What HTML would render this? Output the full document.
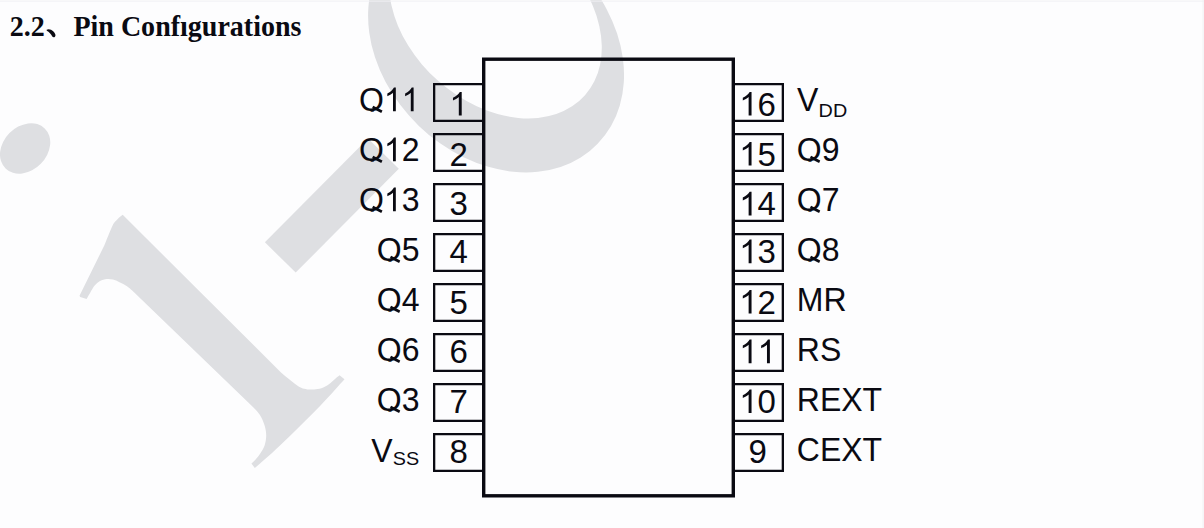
<!DOCTYPE html>
<html><head><meta charset="utf-8"><title>Pin Configurations</title><style>
html,body{margin:0;padding:0;background:#fdfdfe;width:1204px;height:528px;overflow:hidden}
svg{display:block}
</style></head><body><svg width="1204" height="528" viewBox="0 0 1204 528"><defs><clipPath id="ct1"><path clip-rule="evenodd" d="M-500,-100 H500 V100 H-500 Z M-51.09,0.45 h11.28 v8.00 h-11.28 Z M-35.70,-24.20 h17.23 v25.80 h-17.23 Z M-17.35,-24.20 h17.23 v25.80 h-17.23 Z"/></clipPath><clipPath id="ct2"><path clip-rule="evenodd" d="M-500,-100 H500 V100 H-500 Z M-8.17,-24.20 h17.23 v25.80 h-17.23 Z"/></clipPath><clipPath id="ct3"><path clip-rule="evenodd" d="M-500,-100 H500 V100 H-500 Z M-17.35,-24.20 h17.23 v25.80 h-17.23 Z"/></clipPath><clipPath id="ct4"><path clip-rule="evenodd" d="M-500,-100 H500 V100 H-500 Z M-51.09,0.45 h11.28 v8.00 h-11.28 Z M-35.70,-24.20 h17.23 v25.80 h-17.23 Z"/></clipPath><clipPath id="ct5"><path clip-rule="evenodd" d="M-500,-100 H500 V100 H-500 Z M11.28,0.45 h11.28 v8.00 h-11.28 Z"/></clipPath><clipPath id="ct7"><path clip-rule="evenodd" d="M-500,-100 H500 V100 H-500 Z M-17.35,-24.20 h17.23 v25.80 h-17.23 Z"/></clipPath><clipPath id="ct8"><path clip-rule="evenodd" d="M-500,-100 H500 V100 H-500 Z M-51.09,0.45 h11.28 v8.00 h-11.28 Z M-35.70,-24.20 h17.23 v25.80 h-17.23 Z"/></clipPath><clipPath id="ct9"><path clip-rule="evenodd" d="M-500,-100 H500 V100 H-500 Z M11.28,0.45 h11.28 v8.00 h-11.28 Z"/></clipPath><clipPath id="ct11"><path clip-rule="evenodd" d="M-500,-100 H500 V100 H-500 Z M-17.35,-24.20 h17.23 v25.80 h-17.23 Z"/></clipPath><clipPath id="ct12"><path clip-rule="evenodd" d="M-500,-100 H500 V100 H-500 Z M-32.74,0.45 h11.28 v8.00 h-11.28 Z"/></clipPath><clipPath id="ct13"><path clip-rule="evenodd" d="M-500,-100 H500 V100 H-500 Z M11.28,0.45 h11.28 v8.00 h-11.28 Z"/></clipPath><clipPath id="ct15"><path clip-rule="evenodd" d="M-500,-100 H500 V100 H-500 Z M-17.35,-24.20 h17.23 v25.80 h-17.23 Z"/></clipPath><clipPath id="ct16"><path clip-rule="evenodd" d="M-500,-100 H500 V100 H-500 Z M-32.74,0.45 h11.28 v8.00 h-11.28 Z"/></clipPath><clipPath id="ct19"><path clip-rule="evenodd" d="M-500,-100 H500 V100 H-500 Z M-17.35,-24.20 h17.23 v25.80 h-17.23 Z"/></clipPath><clipPath id="ct20"><path clip-rule="evenodd" d="M-500,-100 H500 V100 H-500 Z M-32.74,0.45 h11.28 v8.00 h-11.28 Z"/></clipPath><clipPath id="ct23"><path clip-rule="evenodd" d="M-500,-100 H500 V100 H-500 Z M-17.35,-24.20 h17.23 v25.80 h-17.23 Z M1.00,-24.20 h17.23 v25.80 h-17.23 Z"/></clipPath><clipPath id="ct24"><path clip-rule="evenodd" d="M-500,-100 H500 V100 H-500 Z M-32.74,0.45 h11.28 v8.00 h-11.28 Z"/></clipPath><clipPath id="ct27"><path clip-rule="evenodd" d="M-500,-100 H500 V100 H-500 Z M-17.35,-24.20 h17.23 v25.80 h-17.23 Z"/></clipPath><clipPath id="cth"><path clip-rule="evenodd" d="M-500,-100 H1000 V100 H-500 Z M113.41,-21.89 h6.91 v6.77 h-6.91 Z"/></clipPath></defs><g fill="#dedfe2"><path d="M44.69,128.44 A27.97,21.64 -45.62 1 1 5.57,168.42 A27.97,21.64 -45.62 1 1 44.69,128.44 Z"/><polygon points="264.9,242.3 295.7,272.6 398.8,168.8 368,138.5"/><path d="M122.7,214.8 C121.83,215.53 119.18,217.42 117.50,219.20 C115.82,220.98 114.77,221.20 112.60,225.50 C110.43,229.80 105.85,241.75 104.50,245.00 L79.5,295.8 L80.2,297.0 L86.6,299.0 C87.20,297.95 88.85,294.93 90.20,292.70 C91.55,290.47 93.07,287.55 94.70,285.60 C96.33,283.65 97.98,282.10 100.00,281.00 C102.02,279.90 104.65,279.23 106.80,279.00 C108.95,278.77 110.78,279.07 112.90,279.60 C115.02,280.13 117.15,281.08 119.50,282.20 C121.85,283.32 124.58,284.63 127.00,286.30 C129.42,287.97 132.83,291.22 134.00,292.20 L254,408.0 C255.03,409.23 258.43,412.50 260.20,415.40 C261.97,418.30 263.60,422.03 264.60,425.40 C265.60,428.77 266.20,432.25 266.20,435.60 C266.20,438.95 265.65,442.43 264.60,445.50 C263.55,448.57 261.60,451.45 259.90,454.00 C258.20,456.55 255.82,459.20 254.40,460.80 C252.98,462.40 251.90,463.13 251.40,463.60 L254.8,468.1 C259.00,464.33 269.05,455.95 280.00,445.50 C290.95,435.05 309.75,416.43 320.50,405.40 C331.25,394.37 340.50,383.65 344.50,379.30 L339.5,375.2 C338.75,375.82 336.77,377.40 335.00,378.90 C333.23,380.40 331.17,382.63 328.90,384.20 C326.63,385.77 323.87,387.42 321.40,388.30 C318.93,389.18 316.45,389.32 314.10,389.50 C311.75,389.68 309.45,389.68 307.30,389.40 C305.15,389.12 303.33,388.80 301.20,387.80 C299.07,386.80 296.77,385.03 294.50,383.40 C292.23,381.77 289.85,379.82 287.60,378.00 C285.35,376.18 282.10,373.42 281.00,372.50 Z"/><path fill-rule="evenodd" d="M597.66,143.66 A141.29,110.69 44.02 1 1 394.46,-52.70 A141.29,110.69 44.02 1 1 597.66,143.66 Z M585.00,95.23 A119.55,86.58 41.50 1 1 405.92,-63.21 A119.55,86.58 41.50 1 1 585.00,95.23 Z"/></g><rect x="0" y="0.6" width="1204" height="1" fill="#f0f1f3"/><rect x="1202.6" y="0" width="1" height="528" fill="#f0f1f3"/><rect x="483.7" y="59.2" width="249.6" height="436.6" fill="none" stroke="#0a0a12" stroke-width="3.4"/><path d="M483,84.15 H434.15 V120.85 H483" fill="none" stroke="#0a0a12" stroke-width="2.3"/><path d="M734,84.15 H782.85 V120.85 H734" fill="none" stroke="#0a0a12" stroke-width="2.3"/><path d="M483,134.15 H434.15 V170.85 H483" fill="none" stroke="#0a0a12" stroke-width="2.3"/><path d="M734,134.15 H782.85 V170.85 H734" fill="none" stroke="#0a0a12" stroke-width="2.3"/><path d="M483,184.15 H434.15 V220.85 H483" fill="none" stroke="#0a0a12" stroke-width="2.3"/><path d="M734,184.15 H782.85 V220.85 H734" fill="none" stroke="#0a0a12" stroke-width="2.3"/><path d="M483,234.15 H434.15 V270.85 H483" fill="none" stroke="#0a0a12" stroke-width="2.3"/><path d="M734,234.15 H782.85 V270.85 H734" fill="none" stroke="#0a0a12" stroke-width="2.3"/><path d="M483,284.15 H434.15 V320.85 H483" fill="none" stroke="#0a0a12" stroke-width="2.3"/><path d="M734,284.15 H782.85 V320.85 H734" fill="none" stroke="#0a0a12" stroke-width="2.3"/><path d="M483,334.15 H434.15 V370.85 H483" fill="none" stroke="#0a0a12" stroke-width="2.3"/><path d="M734,334.15 H782.85 V370.85 H734" fill="none" stroke="#0a0a12" stroke-width="2.3"/><path d="M483,384.15 H434.15 V420.85 H483" fill="none" stroke="#0a0a12" stroke-width="2.3"/><path d="M734,384.15 H782.85 V420.85 H734" fill="none" stroke="#0a0a12" stroke-width="2.3"/><path d="M483,434.15 H434.15 V470.85 H483" fill="none" stroke="#0a0a12" stroke-width="2.3"/><path d="M734,434.15 H782.85 V470.85 H734" fill="none" stroke="#0a0a12" stroke-width="2.3"/><g font-family="Liberation Sans, sans-serif" font-size="33" fill="#0a0a12" style="font-kerning:none"><g transform="translate(419.5 111.3) scale(0.97 1)"><text id="t1" x="0" y="0" text-anchor="end" clip-path="url(#ct1)">Q11</text><polygon points="-47.66,-5.45 -38.17,-0.75 -39.41,1.65 -49.00,-2.95"/><path d="M-24.42,0.00 L-27.32,0.00 L-27.32,-18.48 Q-28.37,-17.48 -30.08,-16.48 Q-31.79,-15.48 -33.16,-14.99 L-33.16,-17.79 Q-30.72,-18.93 -28.90,-20.56 Q-27.08,-22.19 -26.33,-23.72 L-24.42,-23.72 Z"/><path d="M-6.07,0.00 L-8.97,0.00 L-8.97,-18.48 Q-10.02,-17.48 -11.73,-16.48 Q-13.44,-15.48 -14.81,-14.99 L-14.81,-17.79 Q-12.37,-18.93 -10.55,-20.56 Q-8.73,-22.19 -7.97,-23.72 L-6.07,-23.72 Z"/></g><g transform="translate(458.6 115.6) scale(1.0 1)"><text id="t2" x="0" y="0" text-anchor="middle" clip-path="url(#ct2)">1</text><path d="M3.11,0.00 L0.21,0.00 L0.21,-18.48 Q-0.83,-17.48 -2.54,-16.48 Q-4.25,-15.48 -5.62,-14.99 L-5.62,-17.79 Q-3.19,-18.93 -1.36,-20.56 Q0.46,-22.19 1.21,-23.72 L3.11,-23.72 Z"/></g><g transform="translate(757.6 115.6) scale(1.0 1)"><text id="t3" x="0" y="0" text-anchor="middle" clip-path="url(#ct3)">16</text><path d="M-6.06,0.00 L-8.97,0.00 L-8.97,-18.48 Q-10.01,-17.48 -11.72,-16.48 Q-13.43,-15.48 -14.80,-14.99 L-14.80,-17.79 Q-12.37,-18.93 -10.54,-20.56 Q-8.72,-22.19 -7.97,-23.72 L-6.06,-23.72 Z"/></g><g transform="translate(419.5 161.3) scale(0.97 1)"><text id="t4" x="0" y="0" text-anchor="end" clip-path="url(#ct4)">Q12</text><polygon points="-47.66,-5.45 -38.17,-0.75 -39.41,1.65 -49.00,-2.95"/><path d="M-24.42,0.00 L-27.32,0.00 L-27.32,-18.48 Q-28.37,-17.48 -30.08,-16.48 Q-31.79,-15.48 -33.16,-14.99 L-33.16,-17.79 Q-30.72,-18.93 -28.90,-20.56 Q-27.08,-22.19 -26.33,-23.72 L-24.42,-23.72 Z"/></g><g transform="translate(796.8 161.3) scale(0.97 1)"><text id="t5" x="0" y="0" clip-path="url(#ct5)">Q9</text><polygon points="14.71,-5.45 24.19,-0.75 22.95,1.65 13.37,-2.95"/></g><g transform="translate(458.6 165.6) scale(1.0 1)"><text id="t6" x="0" y="0" text-anchor="middle">2</text></g><g transform="translate(757.6 165.6) scale(1.0 1)"><text id="t7" x="0" y="0" text-anchor="middle" clip-path="url(#ct7)">15</text><path d="M-6.06,0.00 L-8.97,0.00 L-8.97,-18.48 Q-10.01,-17.48 -11.72,-16.48 Q-13.43,-15.48 -14.80,-14.99 L-14.80,-17.79 Q-12.37,-18.93 -10.54,-20.56 Q-8.72,-22.19 -7.97,-23.72 L-6.06,-23.72 Z"/></g><g transform="translate(419.5 211.3) scale(0.97 1)"><text id="t8" x="0" y="0" text-anchor="end" clip-path="url(#ct8)">Q13</text><polygon points="-47.66,-5.45 -38.17,-0.75 -39.41,1.65 -49.00,-2.95"/><path d="M-24.42,0.00 L-27.32,0.00 L-27.32,-18.48 Q-28.37,-17.48 -30.08,-16.48 Q-31.79,-15.48 -33.16,-14.99 L-33.16,-17.79 Q-30.72,-18.93 -28.90,-20.56 Q-27.08,-22.19 -26.33,-23.72 L-24.42,-23.72 Z"/></g><g transform="translate(796.8 211.3) scale(0.97 1)"><text id="t9" x="0" y="0" clip-path="url(#ct9)">Q7</text><polygon points="14.71,-5.45 24.19,-0.75 22.95,1.65 13.37,-2.95"/></g><g transform="translate(458.6 215.4) scale(1.0 1)"><text id="t10" x="0" y="0" text-anchor="middle">3</text></g><g transform="translate(757.6 215.4) scale(1.0 1)"><text id="t11" x="0" y="0" text-anchor="middle" clip-path="url(#ct11)">14</text><path d="M-6.06,0.00 L-8.97,0.00 L-8.97,-18.48 Q-10.01,-17.48 -11.72,-16.48 Q-13.43,-15.48 -14.80,-14.99 L-14.80,-17.79 Q-12.37,-18.93 -10.54,-20.56 Q-8.72,-22.19 -7.97,-23.72 L-6.06,-23.72 Z"/></g><g transform="translate(419.5 261.3) scale(0.97 1)"><text id="t12" x="0" y="0" text-anchor="end" clip-path="url(#ct12)">Q5</text><polygon points="-29.31,-5.45 -19.82,-0.75 -21.06,1.65 -30.65,-2.95"/></g><g transform="translate(796.8 261.3) scale(0.97 1)"><text id="t13" x="0" y="0" clip-path="url(#ct13)">Q8</text><polygon points="14.71,-5.45 24.19,-0.75 22.95,1.65 13.37,-2.95"/></g><g transform="translate(458.6 263.2) scale(1.0 1)"><text id="t14" x="0" y="0" text-anchor="middle">4</text></g><g transform="translate(757.6 263.2) scale(1.0 1)"><text id="t15" x="0" y="0" text-anchor="middle" clip-path="url(#ct15)">13</text><path d="M-6.06,0.00 L-8.97,0.00 L-8.97,-18.48 Q-10.01,-17.48 -11.72,-16.48 Q-13.43,-15.48 -14.80,-14.99 L-14.80,-17.79 Q-12.37,-18.93 -10.54,-20.56 Q-8.72,-22.19 -7.97,-23.72 L-6.06,-23.72 Z"/></g><g transform="translate(419.5 311.3) scale(0.97 1)"><text id="t16" x="0" y="0" text-anchor="end" clip-path="url(#ct16)">Q4</text><polygon points="-29.31,-5.45 -19.82,-0.75 -21.06,1.65 -30.65,-2.95"/></g><g transform="translate(796.8 311.3) scale(0.97 1)"><text id="t17" x="0" y="0">MR</text></g><g transform="translate(458.6 313.6) scale(1.0 1)"><text id="t18" x="0" y="0" text-anchor="middle">5</text></g><g transform="translate(757.6 313.6) scale(1.0 1)"><text id="t19" x="0" y="0" text-anchor="middle" clip-path="url(#ct19)">12</text><path d="M-6.06,0.00 L-8.97,0.00 L-8.97,-18.48 Q-10.01,-17.48 -11.72,-16.48 Q-13.43,-15.48 -14.80,-14.99 L-14.80,-17.79 Q-12.37,-18.93 -10.54,-20.56 Q-8.72,-22.19 -7.97,-23.72 L-6.06,-23.72 Z"/></g><g transform="translate(419.5 361.3) scale(0.97 1)"><text id="t20" x="0" y="0" text-anchor="end" clip-path="url(#ct20)">Q6</text><polygon points="-29.31,-5.45 -19.82,-0.75 -21.06,1.65 -30.65,-2.95"/></g><g transform="translate(796.8 361.3) scale(0.97 1)"><text id="t21" x="0" y="0">RS</text></g><g transform="translate(458.6 363.2) scale(1.0 1)"><text id="t22" x="0" y="0" text-anchor="middle">6</text></g><g transform="translate(757.6 363.2) scale(1.0 1)"><text id="t23" x="0" y="0" text-anchor="middle" clip-path="url(#ct23)">11</text><path d="M-6.06,0.00 L-8.97,0.00 L-8.97,-18.48 Q-10.01,-17.48 -11.72,-16.48 Q-13.43,-15.48 -14.80,-14.99 L-14.80,-17.79 Q-12.37,-18.93 -10.54,-20.56 Q-8.72,-22.19 -7.97,-23.72 L-6.06,-23.72 Z"/><path d="M12.28,0.00 L9.38,0.00 L9.38,-18.48 Q8.33,-17.48 6.62,-16.48 Q4.92,-15.48 3.55,-14.99 L3.55,-17.79 Q5.98,-18.93 7.80,-20.56 Q9.62,-22.19 10.38,-23.72 L12.28,-23.72 Z"/></g><g transform="translate(419.5 411.3) scale(0.97 1)"><text id="t24" x="0" y="0" text-anchor="end" clip-path="url(#ct24)">Q3</text><polygon points="-29.31,-5.45 -19.82,-0.75 -21.06,1.65 -30.65,-2.95"/></g><g transform="translate(796.8 411.3) scale(0.97 1)"><text id="t25" x="0" y="0">REXT</text></g><g transform="translate(458.6 413.1) scale(1.0 1)"><text id="t26" x="0" y="0" text-anchor="middle">7</text></g><g transform="translate(757.6 413.1) scale(1.0 1)"><text id="t27" x="0" y="0" text-anchor="middle" clip-path="url(#ct27)">10</text><path d="M-6.06,0.00 L-8.97,0.00 L-8.97,-18.48 Q-10.01,-17.48 -11.72,-16.48 Q-13.43,-15.48 -14.80,-14.99 L-14.80,-17.79 Q-12.37,-18.93 -10.54,-20.56 Q-8.72,-22.19 -7.97,-23.72 L-6.06,-23.72 Z"/></g><g transform="translate(796.8 461.3) scale(0.97 1)"><text id="t28" x="0" y="0">CEXT</text></g><g transform="translate(458.6 463.3) scale(1.0 1)"><text id="t29" x="0" y="0" text-anchor="middle">8</text></g><g transform="translate(757.6 463.3) scale(1.0 1)"><text id="t30" x="0" y="0" text-anchor="middle">9</text></g><g transform="translate(371.3 461.5) scale(0.97 1)"><text id="t31" x="0" y="0">V</text></g><g transform="translate(392.7 465.1) scale(1.1 1)"><text id="t32" x="0" y="0" font-size="18">SS</text></g><g transform="translate(797 111.3) scale(0.97 1)"><text id="t33" x="0" y="0">V</text></g><g transform="translate(818.6 117.1) scale(1.1 1)"><text id="t34" x="0" y="0" font-size="18">DD</text></g></g><text transform="translate(9.8 35.5) scale(0.95 1)" font-family="Liberation Serif, serif" font-weight="bold" font-size="29.5" fill="#0a0a12">2.2</text><g transform="translate(73.4 35.5) scale(0.95 1)"><text id="th" x="0" y="0" font-family="Liberation Serif, serif" font-weight="bold" font-size="29.5" fill="#0a0a12" clip-path="url(#cth)">Pin Configurations</text></g><path d="M46.6,29.8 C48.6,28.6 51.2,29.4 53.2,31.2 C55.2,33 56.2,35.4 55,36.7 C54,37.6 52.8,37.3 52.3,36.4 C51,34.2 49.2,31.8 46.8,30.7 Z" fill="#0a0a12"/></svg></body></html>
